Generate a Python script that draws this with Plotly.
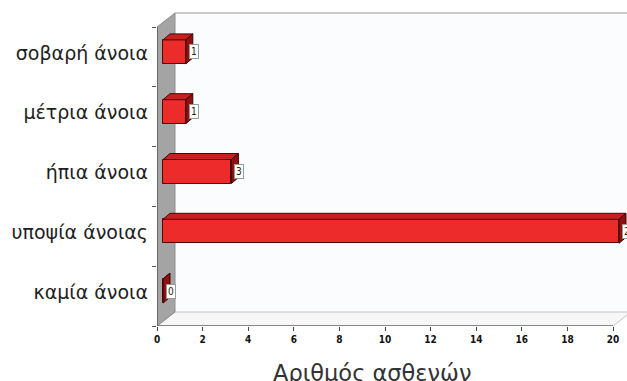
import plotly.graph_objects as go

# Dementia severity categories (bottom to top) and number of patients
categories = ["καμία άνοια", "υποψία άνοιας", "ήπια άνοια", "μέτρια άνοια", "σοβαρή άνοια"]
patients = [0, 20, 3, 1, 1]
x_ticks = [0, 2, 4, 6, 8, 10, 12, 14, 16, 18, 20]
x_title = "Αριθμός ασθενών"

W, H = 627, 381
M_L, M_R, M_T, M_B = 157, 0, 12, 55
PX_X = 22.8          # pixels per patient on the x axis
PX_Y = 59.8          # pixels per category band
plot_w = W - M_L - M_R
plot_h = H - M_T - M_B
x_max = plot_w / PX_X
y_top = -0.5 + plot_h / PX_Y

# oblique depth of the 3D frame and of the bars (pixels)
WALL_DX, WALL_DY = 18, 14
BAR_FX, BAR_FY = 6, 5
BAR_BX, BAR_BY = 13, 11
BAR_H = 24

def ux(px):
    return px / PX_X

def uy(px):
    return px / PX_Y

wdx, wdy = ux(WALL_DX), uy(WALL_DY)
x_end = x_ticks[-1]
y_lo, y_hi = -0.5, len(categories) - 0.5

shapes = [
    # back wall
    dict(type="rect", xref="x", yref="y", x0=wdx, x1=x_max + 1, y0=y_lo + wdy, y1=y_hi + wdy,
         fillcolor="#fbfcfe", line=dict(width=0), layer="below"),
    dict(type="line", xref="x", yref="y", x0=wdx, x1=x_max + 1, y0=y_hi + wdy, y1=y_hi + wdy,
         line=dict(color="#c9c9c9", width=2), layer="below"),
    # floor
    dict(type="path", xref="x", yref="y",
         path=f"M 0 {y_lo} L {x_end} {y_lo} L {x_end + wdx} {y_lo + wdy} L {wdx} {y_lo + wdy} Z",
         fillcolor="#f7f7f7", line=dict(color="#c4c4c4", width=1), layer="below"),
    # left wall
    dict(type="path", xref="x", yref="y",
         path=f"M 0 {y_lo} L 0 {y_hi} L {wdx} {y_hi + wdy} L {wdx} {y_lo + wdy} Z",
         fillcolor="#a4a4a4", line=dict(color="#8c8c8c", width=1), layer="below"),
    dict(type="line", xref="x", yref="y", x0=0, x1=0, y0=y_lo, y1=y_hi,
         line=dict(color="#5a5a5a", width=1.5), layer="below"),
    dict(type="line", xref="x", yref="y", x0=0, x1=x_end, y0=y_lo, y1=y_lo,
         line=dict(color="#6a6a6a", width=1.5), layer="below"),
]

x0 = ux(BAR_FX)
bdx, bdy = ux(BAR_BX - BAR_FX), uy(BAR_BY - BAR_FY)
h = uy(BAR_H)
centers = [i + uy(BAR_FY) for i in range(len(categories))]

top_x, top_y, side_x, side_y = [], [], [], []
for yc, v in zip(centers, patients):
    yt, yb = yc + h / 2, yc - h / 2
    xr = x0 + v
    top_x += [x0, xr, xr + bdx, x0 + bdx, x0, None]
    top_y += [yt, yt, yt + bdy, yt + bdy, yt, None]
    side_x += [xr, xr, xr + bdx, xr + bdx, xr, None]
    side_y += [yt, yb, yb + bdy, yt + bdy, yt, None]

fig = go.Figure()
fig.add_trace(go.Scatter(x=top_x, y=top_y, mode="lines", fill="toself",
                         fillcolor="#c81f1f", line=dict(color="#4a0505", width=1),
                         hoverinfo="skip", showlegend=False))
fig.add_trace(go.Scatter(x=side_x, y=side_y, mode="lines", fill="toself",
                         fillcolor="#8e1010", line=dict(color="#3a0303", width=1),
                         hoverinfo="skip", showlegend=False))
fig.add_trace(go.Bar(x=patients, y=centers, base=x0, orientation="h", width=h,
                     marker=dict(color="#ee2b2b", line=dict(color="#4a0505", width=1)),
                     showlegend=False))

annotations = []
for yc, v in zip(centers, patients):
    annotations.append(dict(x=x0 + v + ux(3), y=yc, xref="x", yref="y", text=str(v),
                            showarrow=False, xanchor="left", yanchor="middle",
                            font=dict(family="Liberation Sans Narrow, DejaVu Sans Condensed, Arial Narrow, sans-serif",
                                      size=10, color="#222222"),
                            bgcolor="#ffffff", bordercolor="#9a9a9a", borderwidth=1, borderpad=1))
annotations.append(dict(x=(372 - M_L) / plot_w, y=(M_T + plot_h - 373) / plot_h,
                        xref="paper", yref="paper", text=x_title, showarrow=False,
                        xanchor="center", yanchor="middle",
                        font=dict(family="DejaVu Sans, sans-serif", size=22.5, color="#333333")))

fig.update_layout(
    template="none",
    width=W, height=H,
    margin=dict(l=M_L, r=M_R, t=M_T, b=M_B, pad=0),
    paper_bgcolor="#ffffff", plot_bgcolor="#ffffff",
    shapes=shapes, annotations=annotations,
    bargap=0,
    xaxis=dict(range=[0, x_max], tickmode="array", tickvals=x_ticks,
               ticktext=[str(t) for t in x_ticks],
               ticks="outside", ticklen=4, tickwidth=1, tickcolor="#444444",
               tickfont=dict(family="Liberation Sans Narrow, DejaVu Sans Condensed, Arial Narrow, sans-serif",
                             size=10, color="#111111", weight="bold"),
               showgrid=False, zeroline=False, showline=False, automargin=False, fixedrange=True),
    yaxis=dict(range=[-0.5, y_top], tickmode="array", tickvals=list(range(len(categories))),
               ticktext=categories, ticks="", ticklabelstandoff=8, ticklabelshift=-4,
               tickfont=dict(family="DejaVu Sans, sans-serif", size=19, color="#1e1e1e"),
               minor=dict(tickmode="array", tickvals=[i - 0.5 for i in range(len(categories) + 1)],
                          ticks="outside", ticklen=4, tickcolor="#555555", showgrid=False),
               showgrid=False, zeroline=False, showline=False, automargin=False, fixedrange=True),
)

fig.write_html("out.html")
